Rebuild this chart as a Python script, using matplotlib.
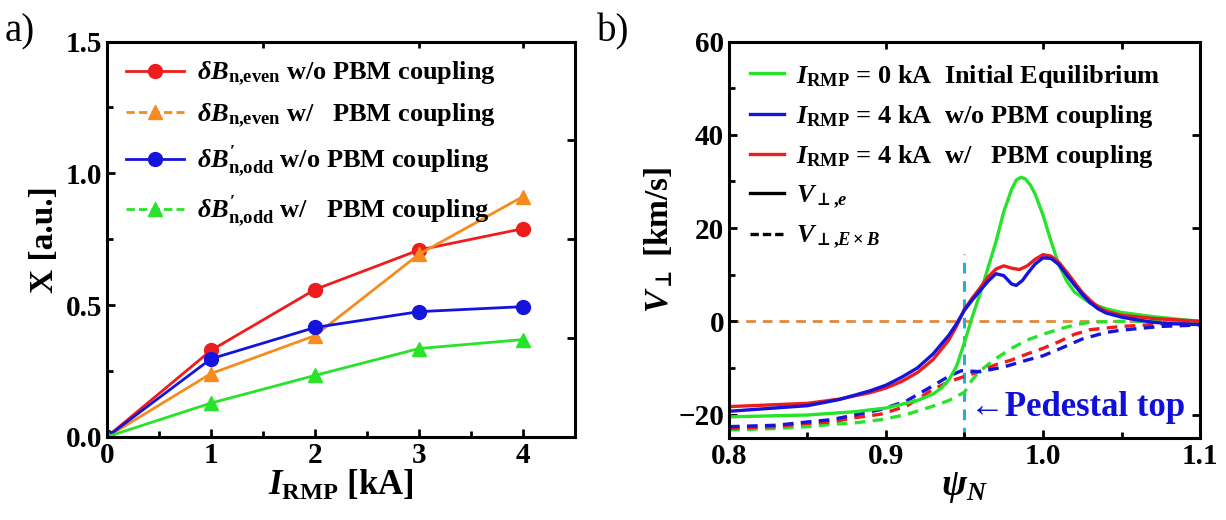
import matplotlib
matplotlib.use("Agg")
import matplotlib.pyplot as plt
from matplotlib.lines import Line2D
from matplotlib.ticker import MultipleLocator

plt.rcParams['font.family'] = ['Liberation Serif', 'DejaVu Serif']
plt.rcParams['font.weight'] = 'bold'
plt.rcParams['mathtext.fontset'] = 'custom'
plt.rcParams['mathtext.rm'] = 'Liberation Serif:bold'
plt.rcParams['mathtext.bf'] = 'Liberation Serif:bold'
plt.rcParams['mathtext.it'] = 'Liberation Serif:italic:bold'
plt.rcParams['mathtext.sf'] = 'DejaVu Sans:bold'
plt.rcParams['mathtext.fallback'] = 'stix'

# ---- panel a data ----
i_rmp = [0, 1, 2, 3, 4]
even_wo = [0.0, 0.328, 0.559, 0.709, 0.790]
even_w = [0.0, 0.240, 0.384, 0.693, 0.912]
odd_wo = [0.0, 0.296, 0.415, 0.475, 0.494]
odd_w = [0.0, 0.128, 0.233, 0.335, 0.369]

# ---- panel b data ----
psi_g = [0.80, 0.85, 0.88, 0.90, 0.92, 0.93, 0.935, 0.94, 0.945, 0.95, 0.955, 0.96,
         0.965, 0.97, 0.975, 0.98, 0.983, 0.986, 0.989, 0.992, 0.995, 1.00, 1.005,
         1.01, 1.015, 1.02, 1.03, 1.04, 1.05, 1.07, 1.09, 1.10]
ve_g = [-20.5, -20.1, -19.4, -18.6, -17.0, -15.6, -14.4, -12.6, -9.6, -4.5, 1.0, 6.0,
        11.5, 17.0, 23.5, 28.3, 30.3, 30.9, 30.5, 29.2, 27.3, 22.8, 17.3,
        12.2, 8.7, 6.3, 3.9, 2.7, 1.9, 1.0, 0.3, 0.0]

psi_r = [0.80, 0.85, 0.87, 0.89, 0.90, 0.91, 0.92, 0.93, 0.94, 0.945, 0.95, 0.955,
         0.96, 0.965, 0.97, 0.975, 0.98, 0.985, 0.99, 0.995, 1.00, 1.005, 1.01,
         1.015, 1.02, 1.025, 1.03, 1.035, 1.04, 1.05, 1.07, 1.09, 1.10]
ve_r = [-18.3, -17.6, -16.7, -15.3, -14.3, -12.9, -11.0, -8.2, -4.0, -1.0, 2.6, 5.0,
        7.2, 9.5, 11.2, 11.9, 11.4, 11.1, 11.9, 13.3, 14.3, 14.0, 12.7,
        10.6, 8.4, 6.2, 4.5, 3.1, 2.2, 1.3, 0.6, 0.2, 0.0]

psi_b = [0.80, 0.85, 0.87, 0.89, 0.90, 0.91, 0.92, 0.93, 0.94, 0.945, 0.95, 0.955,
         0.96, 0.965, 0.97, 0.975, 0.98, 0.983, 0.987, 0.99, 0.995, 1.00, 1.005,
         1.01, 1.015, 1.02, 1.025, 1.03, 1.035, 1.04, 1.05, 1.06, 1.07, 1.08, 1.10]
ve_b = [-19.3, -18.1, -16.8, -14.9, -13.7, -12.0, -10.0, -7.0, -3.0, -0.5, 2.4, 4.6,
        6.6, 8.6, 10.2, 9.8, 8.0, 7.7, 8.8, 10.2, 12.3, 13.6, 13.5,
        12.2, 10.0, 7.8, 5.8, 4.0, 2.7, 1.8, 0.9, 0.3, -0.2, -0.5, -0.7]

psi_bd = [0.80, 0.83, 0.85, 0.865, 0.88, 0.897, 0.913, 0.93, 0.94, 0.948, 0.96,
          0.975, 0.99, 1.00, 1.01, 1.025, 1.04, 1.05, 1.075, 1.10]
vexb_b = [-22.6, -22.3, -21.6, -21.1, -20.1, -18.9, -17.1, -13.8, -11.8, -10.6, -10.8,
          -9.8, -8.3, -7.4, -6.0, -3.8, -2.4, -1.9, -1.1, -0.8]

psi_rd = [0.80, 0.83, 0.85, 0.865, 0.88, 0.897, 0.913, 0.93, 0.94, 0.95, 0.96,
          0.97, 0.98, 0.99, 1.00, 1.01, 1.02, 1.03, 1.05, 1.075, 1.10]
vexb_r = [-23.0, -22.6, -21.9, -21.6, -20.7, -19.9, -18.2, -14.6, -13.0, -11.8, -10.7,
          -9.3, -8.3, -7.0, -5.8, -4.4, -2.8, -1.8, -1.1, -0.6, -0.4]

psi_gd = [0.80, 0.83, 0.85, 0.865, 0.88, 0.897, 0.913, 0.93, 0.94, 0.95, 0.955, 0.96,
          0.97, 0.98, 0.99, 1.00, 1.01, 1.02, 1.03, 1.05, 1.10]
vexb_g = [-23.3, -23.0, -22.6, -22.1, -21.8, -21.1, -20.0, -18.2, -17.0, -15.2, -12.5,
          -10.6, -8.0, -5.8, -4.0, -2.8, -1.7, -0.8, -0.2, 0.0, 0.0]

pedestal_psi = 0.95
pedestal_top = 14.5

RED = '#ee1c1c'
ORANGE = '#f68b1f'
BLUE = '#1414dc'
GREEN = '#27e32a'

fig = plt.figure(figsize=(12.26, 5.2), dpi=100)
ax1 = fig.add_axes([0.0873, 0.16, 0.3817, 0.76])
ax2 = fig.add_axes([0.5946, 0.158, 0.3842, 0.762])


def style_axes(ax):
    for sp in ax.spines.values():
        sp.set_linewidth(2.2)
    ax.tick_params(which='both', direction='in', width=2, labelsize=21)
    ax.tick_params(which='major', length=6)
    ax.tick_params(which='minor', length=4)
    for lab in ax.get_xticklabels() + ax.get_yticklabels():
        lab.set_fontweight('bold')


# ---------------- panel a ----------------
lw = 2.0
ms = 10
ax1.plot(i_rmp, even_wo, '-o', color=RED, lw=lw, ms=ms)
ax1.plot(i_rmp, even_w, '-^', color=ORANGE, lw=lw, ms=ms)
ax1.plot(i_rmp, odd_wo, '-o', color=BLUE, lw=lw, ms=ms)
ax1.plot(i_rmp, odd_w, '-^', color=GREEN, lw=lw, ms=ms)
ax1.set_xlim(0, 4.5)
ax1.set_ylim(0, 1.5)
ax1.set_xticks([0, 1, 2, 3, 4])
ax1.set_yticks([0, 0.5, 1.0, 1.5])
ax1.set_yticklabels(['0.0', '0.5', '1.0', '1.5'])
ax1.xaxis.set_minor_locator(MultipleLocator(0.5))
ax1.yaxis.set_minor_locator(MultipleLocator(0.25))
style_axes(ax1)
top1 = ax1.secondary_xaxis('top')
top1.set_xticks([1.5, 3.0, 4.0], labels=['', '', ''])
top1.tick_params(direction='in', length=4, width=2)
right1 = ax1.secondary_yaxis('right')
right1.set_yticks([0.375, 0.75, 1.125], labels=['', '', ''])
right1.tick_params(direction='in', length=6, width=2)
ax1.set_xlabel(r'$I_{\rm RMP}$ [kA]', fontsize=25, fontweight='bold', labelpad=0)
ax1.set_ylabel('X [a.u.]', fontsize=24, fontweight='bold', labelpad=4)

dash_h = (0, (3, 1.5))
handles_a = [
    Line2D([], [], color=RED, lw=lw, marker='o', ms=ms),
    Line2D([], [], color=ORANGE, lw=lw, marker='^', ms=ms, ls=dash_h),
    Line2D([], [], color=BLUE, lw=lw, marker='o', ms=ms),
    Line2D([], [], color=GREEN, lw=lw, marker='^', ms=ms, ls=dash_h),
]
labels_a = [
    r'$\delta B_{\rm n{,}even}$ w/o PBM coupling',
    r'$\delta B_{\rm n{,}even}$ w/   PBM coupling',
    r"$\delta B^{\prime}_{\rm n{,}odd}$ w/o PBM coupling",
    r"$\delta B^{\prime}_{\rm n{,}odd}$ w/   PBM coupling",
]
ax1.legend(handles_a, labels_a, loc='upper left', frameon=False,
           prop={'family': 'Liberation Serif', 'weight': 'bold', 'size': 19},
           handlelength=2.2, labelspacing=0.5, borderaxespad=0.3,
           handletextpad=0.5)
fig.text(0.004, 0.975, 'a)', fontsize=28, fontweight='normal', va='top')

# ---------------- panel b ----------------
lwb = 2.4
dash_b = (0, (3.2, 2.2))
ax2.axhline(0, color='#e0893c', lw=2.0, ls=(0, (3.5, 2.5)), zorder=1)
ax2.vlines(pedestal_psi, -25, pedestal_top, color='#1fb0e0', lw=2.2,
           linestyles=(0, (3.5, 2.5)), zorder=1)
ax2.plot(psi_gd, vexb_g, color=GREEN, lw=lwb, ls=dash_b)
ax2.plot(psi_rd, vexb_r, color=RED, lw=lwb, ls=dash_b)
ax2.plot(psi_bd, vexb_b, color=BLUE, lw=lwb, ls=dash_b)
ax2.plot(psi_g, ve_g, color=GREEN, lw=lwb)
ax2.plot(psi_r, ve_r, color=RED, lw=lwb)
ax2.plot(psi_b, ve_b, color=BLUE, lw=lwb)
ax2.set_xlim(0.8, 1.1)
ax2.set_ylim(-25, 60)
ax2.set_xticks([0.8, 0.9, 1.0, 1.1])
ax2.set_xticklabels(['0.8', '0.9', '1.0', '1.1'])
ax2.set_yticks([-20, 0, 20, 40, 60])
ax2.xaxis.set_minor_locator(MultipleLocator(0.05))
ax2.yaxis.set_minor_locator(MultipleLocator(10))
style_axes(ax2)
top2 = ax2.secondary_xaxis('top')
top2.set_xticks([0.9, 1.0, 1.05], labels=['', '', ''])
top2.tick_params(direction='in', length=5, width=2)
right2 = ax2.secondary_yaxis('right')
right2.set_yticks([-20, 0, 20, 40], labels=['', '', '', ''])
right2.tick_params(direction='in', length=6, width=2)
ax2.set_xlabel(r'$\psi_N$', fontsize=27, labelpad=0)
ax2.set_ylabel(r'$V_{\bot}$ [km/s]', fontsize=24, fontweight='bold', labelpad=2)

ax2.text(0.9535, -18.5, '\u2190Pedestal top', color='#1010d8', fontsize=25,
         fontweight='bold', va='center', ha='left',
         family=['Liberation Serif', 'DejaVu Serif'])

handles_b = [
    Line2D([], [], color=GREEN, lw=lwb),
    Line2D([], [], color=BLUE, lw=lwb),
    Line2D([], [], color=RED, lw=lwb),
    Line2D([], [], color='black', lw=lwb),
    Line2D([], [], color='black', lw=lwb, ls=(0, (2.5, 1.2))),
]
labels_b = [
    r'$I_{\rm RMP}$ = 0 kA  Initial Equilibrium',
    r'$I_{\rm RMP}$ = 4 kA  w/o PBM coupling',
    r'$I_{\rm RMP}$ = 4 kA  w/   PBM coupling',
    r'$V_{\bot{,}e}$',
    r'$V_{\bot{,}E\times B}$',
]
ax2.legend(handles_b, labels_b, loc='upper left', frameon=False,
           prop={'family': 'Liberation Serif', 'weight': 'bold', 'size': 19},
           handlelength=1.3, labelspacing=0.5, borderaxespad=0.4,
           handletextpad=0.45)
fig.text(0.487, 0.975, 'b)', fontsize=28, fontweight='normal', va='top')

fig.savefig('out.png', dpi=100)
